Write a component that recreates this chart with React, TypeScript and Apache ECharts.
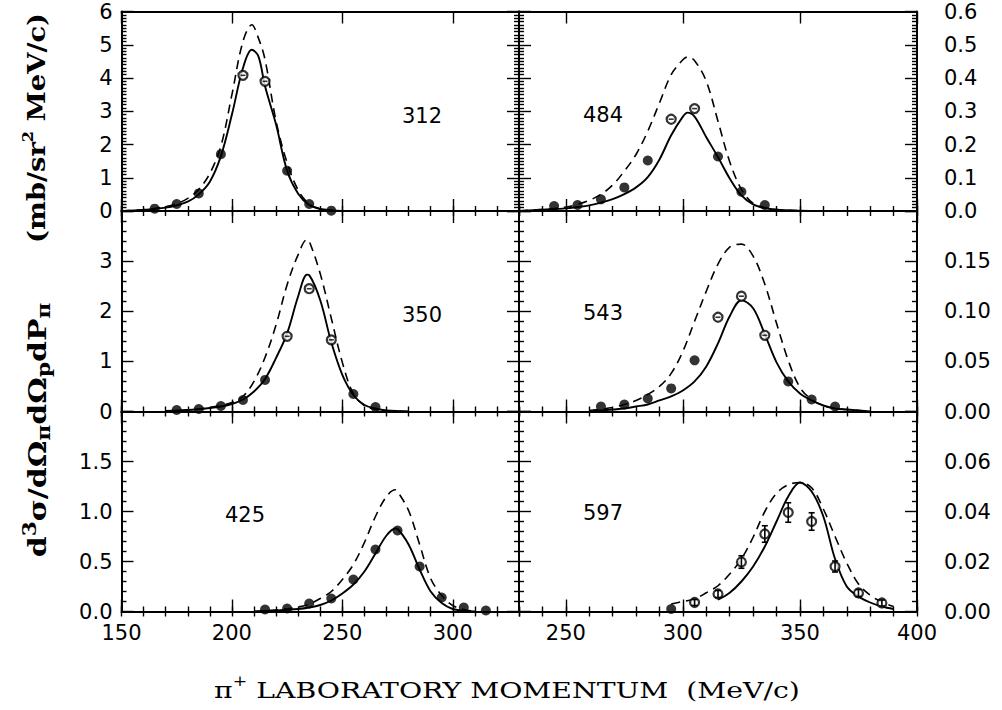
import React, { useEffect, useRef } from "react";
import * as echarts from "echarts";

// ---------- data: curves (x grid, solid = full calculation, dashed = alternative) ----------
const X312 = [150, 160, 170, 175, 180, 185, 190, 195, 200, 205, 209, 212, 215, 220, 225, 230, 235, 240, 245, 250];
const S312 = [0, 0.03, 0.1, 0.17, 0.28, 0.5, 0.88, 1.65, 2.9, 4.3, 4.85, 4.65, 3.75, 2.6, 1.21, 0.52, 0.18, 0.06, 0.02, 0];
const D312 = [0, 0.04, 0.13, 0.22, 0.38, 0.65, 1.13, 1.95, 3.5, 5.1, 5.6, 5.2, 4.55, 2.7, 1.45, 0.63, 0.21, 0.07, 0.02, 0];

const X484 = [230, 240, 250, 255, 260, 265, 270, 275, 280, 285, 290, 295, 300, 302, 305, 310, 315, 320, 325, 330, 335, 340, 350, 360];
const S484 = [0, 0.004, 0.008, 0.012, 0.017, 0.025, 0.036, 0.051, 0.071, 0.102, 0.155, 0.228, 0.284, 0.296, 0.284, 0.222, 0.162, 0.098, 0.047, 0.02, 0.009, 0.004, 0.001, 0];
const D484 = [0, 0.005, 0.012, 0.02, 0.032, 0.05, 0.078, 0.12, 0.17, 0.24, 0.325, 0.41, 0.455, 0.463, 0.452, 0.39, 0.27, 0.148, 0.065, 0.023, 0.01, 0.004, 0.001, 0];

const X350 = [170, 180, 190, 195, 200, 205, 210, 215, 220, 225, 230, 234, 235, 240, 245, 250, 255, 260, 265, 270, 280];
const S350 = [0.01, 0.03, 0.07, 0.1, 0.15, 0.24, 0.4, 0.65, 1.07, 1.56, 2.3, 2.73, 2.72, 2.22, 1.38, 0.73, 0.33, 0.13, 0.06, 0.02, 0];
const D350 = [0.01, 0.03, 0.08, 0.12, 0.18, 0.3, 0.6, 1.08, 1.73, 2.53, 3.13, 3.43, 3.4, 2.75, 1.86, 0.98, 0.35, 0.12, 0.04, 0.015, 0];

const X543 = [260, 270, 275, 280, 285, 290, 295, 300, 305, 310, 315, 320, 325, 330, 335, 340, 345, 350, 355, 360, 365, 370, 380];
const S543 = [0, 0.002, 0.003, 0.005, 0.007, 0.011, 0.015, 0.021, 0.03, 0.045, 0.068, 0.095, 0.111, 0.103, 0.077, 0.049, 0.03, 0.018, 0.011, 0.006, 0.003, 0.002, 0];
const D543 = [0.001, 0.004, 0.007, 0.011, 0.017, 0.025, 0.038, 0.06, 0.09, 0.12, 0.147, 0.164, 0.167, 0.155, 0.127, 0.088, 0.051, 0.024, 0.012, 0.006, 0.003, 0.002, 0];

const X425 = [210, 220, 230, 235, 240, 245, 250, 255, 260, 265, 270, 274, 275, 280, 285, 290, 295, 300, 305, 310];
const S425 = [0, 0.01, 0.025, 0.04, 0.065, 0.11, 0.18, 0.27, 0.4, 0.58, 0.76, 0.83, 0.825, 0.67, 0.42, 0.2, 0.085, 0.025, 0.008, 0];
const D425 = [0, 0.015, 0.045, 0.075, 0.13, 0.2, 0.32, 0.47, 0.69, 0.95, 1.15, 1.217, 1.2, 1.01, 0.67, 0.33, 0.16, 0.06, 0.02, 0];

const X597S = [315, 320, 325, 330, 335, 340, 345, 350, 355, 360, 365, 370, 375, 380, 385, 390];
const S597 = [0.0047, 0.0075, 0.012, 0.018, 0.026, 0.036, 0.046, 0.0516, 0.048, 0.038, 0.021, 0.01, 0.006, 0.0036, 0.002, 0.001];
const X597D = [295, 300, 305, 310, 315, 320, 325, 330, 335, 340, 345, 350, 355, 360, 365, 370, 375, 380, 385, 390];
const D597 = [0.003, 0.004, 0.005, 0.0075, 0.0103, 0.015, 0.021, 0.0297, 0.04, 0.0473, 0.0507, 0.0516, 0.0495, 0.041, 0.03, 0.0194, 0.011, 0.0065, 0.0038, 0.002];

// ---------- data: measured points ----------
const PX312 = [165, 175, 185, 195, 205, 215, 225, 235, 245];
const PY312 = [0.07, 0.21, 0.53, 1.71, 4.08, 3.9, 1.21, 0.21, 0.01];
const OPEN312 = [205, 215];

const PX484 = [245, 255, 265, 275, 285, 295, 305, 315, 325, 335];
const PY484 = [0.015, 0.018, 0.035, 0.071, 0.152, 0.276, 0.308, 0.164, 0.058, 0.018];
const OPEN484 = [295, 305];

const PX350 = [175, 185, 195, 205, 215, 225, 235, 245, 255, 265];
const PY350 = [0.03, 0.05, 0.11, 0.23, 0.63, 1.5, 2.45, 1.43, 0.35, 0.09];
const OPEN350 = [225, 235, 245];

const PX543 = [265, 275, 285, 295, 305, 315, 325, 335, 345, 355, 365];
const PY543 = [0.005, 0.007, 0.013, 0.023, 0.051, 0.094, 0.115, 0.076, 0.03, 0.012, 0.005];
const OPEN543 = [315, 325, 335];

const PX425 = [215, 225, 235, 245, 255, 265, 275, 285, 295, 305, 315];
const PY425 = [0.02, 0.03, 0.08, 0.13, 0.32, 0.62, 0.81, 0.45, 0.14, 0.04, 0.01];
const OPEN425: number[] = [];

const PX597 = [295, 305, 315, 325, 335, 345, 355, 365, 375, 385];
const PY597 = [0.001, 0.0036, 0.007, 0.0198, 0.031, 0.0396, 0.036, 0.018, 0.0074, 0.0034];
const ERR597 = [0, 0.0012, 0.0014, 0.0025, 0.0033, 0.0039, 0.0035, 0.0022, 0.0014, 0.0012];
const OPEN597 = [305, 315, 325, 335, 345, 355, 365, 375, 385];

// ---------- axes ----------
const X_RANGE = [[150, 330], [230, 400]];
const X_MAJOR = [[150, 200, 250, 300], [250, 300, 350, 400]];
const Y_MAX = [6, 0.6, 4, 0.2, 2, 0.08];
const Y_STEP = [1, 0.1, 1, 0.05, 0.5, 0.02];
const Y_MINOR = [10, 10, 5, 5, 5, 5];
const Y_DEC = [0, 1, 0, 2, 1, 2];
const BEAM = ["312", "484", "350", "543", "425", "597"];

const PANELS = [
  { sx: X312, s: S312, dx: X312, d: D312, px: PX312, py: PY312, open: OPEN312, err: null as number[] | null },
  { sx: X484, s: S484, dx: X484, d: D484, px: PX484, py: PY484, open: OPEN484, err: null },
  { sx: X350, s: S350, dx: X350, d: D350, px: PX350, py: PY350, open: OPEN350, err: null },
  { sx: X543, s: S543, dx: X543, d: D543, px: PX543, py: PY543, open: OPEN543, err: null },
  { sx: X425, s: S425, dx: X425, d: D425, px: PX425, py: PY425, open: OPEN425, err: null },
  { sx: X597S, s: S597, dx: X597D, d: D597, px: PX597, py: PY597, open: OPEN597, err: ERR597 },
];

// ---------- layout ----------
const COL_LEFT = [121.5, 519];
const COL_WIDTH = [397.5, 398];
const ROW_TOP = [11.5, 211, 411.5];
const ROW_HEIGHT = [199.5, 200.5, 200];
const LABEL_POS = [[422, 116], [603, 115], [422, 315], [603, 313], [245, 515], [603, 513]];

const INK = "#000";
const SANS = "'DejaVu Sans', sans-serif";
const SERIF = "'DejaVu Serif', serif";

function buildOption() {
  const grid: any[] = [];
  const xAxis: any[] = [];
  const yAxis: any[] = [];
  const series: any[] = [];
  const graphic: any[] = [];
  const tickStyle = { color: INK, width: 1.4 };
  const axisLine = { show: true, onZero: false, lineStyle: { color: INK, width: 2 } };

  PANELS.forEach((p, i) => {
    const col = i % 2;
    const row = Math.floor(i / 2);
    grid.push({ left: COL_LEFT[col], top: ROW_TOP[row], width: COL_WIDTH[col], height: ROW_HEIGHT[row] });
    const [xmin, xmax] = X_RANGE[col];
    const xb = { type: "value", gridIndex: i, min: xmin, max: xmax, splitLine: { show: false } };
    const labelFont = { fontSize: 21, fontFamily: SANS, color: INK };
    ["bottom", "top"].forEach((pos) => {
      xAxis.push({
        ...xb,
        position: pos,
        axisLine,
        axisTick: { show: true, inside: true, length: 12, customValues: X_MAJOR[col], lineStyle: tickStyle },
        axisLabel: {
          show: pos === "bottom" && row === 2,
          customValues: X_MAJOR[col],
          margin: 11,
          ...labelFont,
        },
      });
      xAxis.push({
        ...xb,
        position: pos,
        interval: 10,
        axisLine: { show: false },
        axisTick: { show: true, inside: true, length: 5, lineStyle: tickStyle },
        axisLabel: { show: false },
      });
    });
    const yb = {
      type: "value",
      gridIndex: i,
      min: 0,
      max: Y_MAX[i],
      interval: Y_STEP[i],
      splitLine: { show: false },
      axisLine,
      axisTick: { show: true, inside: true, length: 12, lineStyle: tickStyle },
      minorTick: { show: true, splitNumber: Y_MINOR[i], length: 5, lineStyle: tickStyle },
    };
    const fmt = (v: number) => v.toFixed(Y_DEC[i]);
    yAxis.push({
      ...yb,
      position: "left",
      axisLabel: {
        show: col === 0,
        formatter: fmt,
        margin: 9,
        showMaxLabel: row === 0,
        ...labelFont,
      },
    });
    yAxis.push({
      ...yb,
      position: "right",
      axisLabel: {
        show: col === 1,
        formatter: fmt,
        margin: 27,
        showMaxLabel: row === 0,
        ...labelFont,
      },
    });

    const xi = 4 * i;
    const yi = 2 * i;
    series.push({
      type: "line",
      xAxisIndex: xi,
      yAxisIndex: yi,
      data: p.sx.map((x, k) => [x, p.s[k]]),
      showSymbol: false,
      smooth: 0.35,
      silent: true,
      lineStyle: { color: INK, width: 1.9 },
      z: 3,
    });
    series.push({
      type: "line",
      xAxisIndex: xi,
      yAxisIndex: yi,
      data: p.dx.map((x, k) => [x, p.d[k]]),
      showSymbol: false,
      smooth: 0.35,
      silent: true,
      lineStyle: { color: INK, width: 1.6, type: [9, 6] },
      z: 3,
    });
    const filled: number[][] = [];
    const open: number[][] = [];
    p.px.forEach((x, k) => {
      const r = p.err ? [x, p.py[k], p.err[k]] : [x, p.py[k]];
      if (p.open.includes(x)) open.push(r);
      else filled.push(r);
    });
    series.push({
      type: "scatter",
      xAxisIndex: xi,
      yAxisIndex: yi,
      data: filled,
      symbol: "circle",
      symbolSize: 10,
      itemStyle: { color: INK },
      silent: true,
      z: 4,
    });
    series.push({
      type: "scatter",
      xAxisIndex: xi,
      yAxisIndex: yi,
      data: open,
      symbol: "circle",
      symbolSize: 9,
      itemStyle: { color: "#fff", borderColor: INK, borderWidth: 2.2 },
      silent: true,
      z: 4,
    });
    if (p.err) {
      series.push({
        type: "custom",
        xAxisIndex: xi,
        yAxisIndex: yi,
        data: open,
        silent: true,
        z: 5,
        encode: { x: 0, y: 1 },
        renderItem: (params: any, api: any) => {
          const x = api.value(0);
          const y = api.value(1);
          const e = api.value(2);
          const top = api.coord([x, y + e]);
          const bot = api.coord([x, y - e]);
          const st = { stroke: INK, lineWidth: 1.6 };
          return {
            type: "group",
            children: [
              { type: "line", shape: { x1: top[0], y1: top[1], x2: bot[0], y2: bot[1] }, style: st },
              { type: "line", shape: { x1: top[0] - 3, y1: top[1], x2: top[0] + 3, y2: top[1] }, style: st },
              { type: "line", shape: { x1: bot[0] - 3, y1: bot[1], x2: bot[0] + 3, y2: bot[1] }, style: st },
            ],
          };
        },
      });
    } else if (open.length) {
      series.push({
        type: "scatter",
        xAxisIndex: xi,
        yAxisIndex: yi,
        data: open,
        symbol: "rect",
        symbolSize: [5, 1.6],
        itemStyle: { color: INK },
        silent: true,
        z: 5,
      });
    }

    graphic.push({
      type: "text",
      x: LABEL_POS[i][0],
      y: LABEL_POS[i][1],
      style: {
        text: BEAM[i],
        fontSize: 21,
        fontFamily: SANS,
        fill: INK,
        align: "center",
        verticalAlign: "middle",
      },
    });
  });

  const serifRich = (size: number, bold: boolean, small: number) => {
    const w = bold ? "bold" : "normal";
    return {
      n: { fontSize: size, fontFamily: SERIF, fontWeight: w, fill: INK, lineHeight: 32 },
      sup: { fontSize: Math.round(size * small), fontFamily: SERIF, fontWeight: w, fill: INK, lineHeight: 14, verticalAlign: "top" },
      sub: { fontSize: Math.round(size * small), fontFamily: SERIF, fontWeight: w, fill: INK, lineHeight: 14, verticalAlign: "bottom" },
    };
  };

  graphic.push({
    type: "text",
    x: 507,
    y: 690,
    scaleX: 1.23,
    style: {
      text: "{n|π}{sup|+}{n| LABORATORY MOMENTUM  (MeV/c)}",
      rich: serifRich(23, false, 0.6),
      align: "center",
      verticalAlign: "middle",
    },
  });
  // y title, two parts along the left edge
  graphic.push({
    type: "text",
    x: 37,
    y: 430,
    rotation: Math.PI / 2,
    scaleX: 1.2,
    style: {
      text: "{n|d}{sup|3}{n|σ/dΩ}{sub|π}{n|dΩ}{sub|p}{n|dP}{sub|π}",
      rich: serifRich(25, true, 0.7),
      align: "center",
      verticalAlign: "middle",
    },
  });
  graphic.push({
    type: "text",
    x: 37,
    y: 128,
    rotation: Math.PI / 2,
    scaleX: 1.14,
    style: {
      text: "{n|(mb/sr}{sup|2}{n| MeV/c)}",
      rich: serifRich(24, true, 0.6),
      align: "center",
      verticalAlign: "middle",
    },
  });

  return {
    animation: false,
    backgroundColor: "#fff",
    grid,
    xAxis,
    yAxis,
    series,
    graphic,
  };
}

export default function App() {
  const ref = useRef<HTMLDivElement>(null);
  useEffect(() => {
    document.body.style.margin = "0";
    const chart = echarts.init(ref.current as HTMLDivElement, null, { renderer: "svg" });
    chart.setOption(buildOption() as any);
    return () => chart.dispose();
  }, []);
  return <div ref={ref} style={{ width: 1002, height: 710 }} />;
}
